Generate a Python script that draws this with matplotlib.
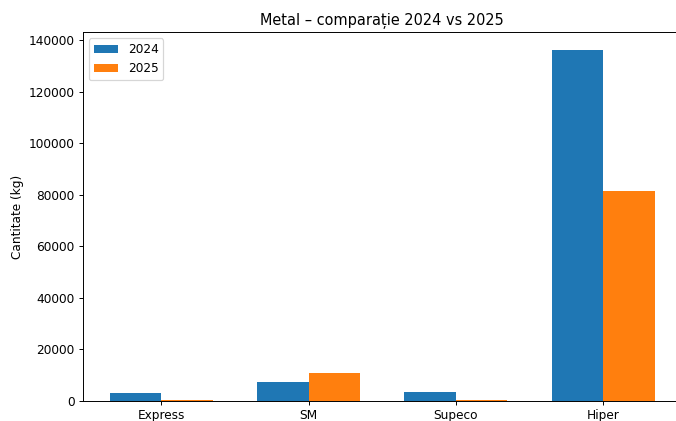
import matplotlib
matplotlib.use("Agg")
import matplotlib.pyplot as plt
import numpy as np

categories = ["Express", "SM", "Supeco", "Hiper"]
values_2024 = [3200, 7400, 3600, 136300]
values_2025 = [450, 10750, 400, 81500]

DPI = 87
fig, ax = plt.subplots(figsize=(676 / DPI, 421 / DPI), dpi=DPI)
x = np.arange(len(categories))
w = 0.35
ax.bar(x - w/2, values_2024, w, label="2024")
ax.bar(x + w/2, values_2025, w, label="2025")
ax.set_xticks(x)
ax.set_xticklabels(categories)
ax.set_xlim(-0.533, 3.533)
ax.set_ylabel("Cantitate (kg)")
ax.set_title("Metal – comparație 2024 vs 2025")
ax.legend(loc="upper left")
# the reference image is cropped on the right, so the axes extend past the figure edge
left_px, right_px = 83, 681.5
fig.subplots_adjust(left=left_px/676, right=right_px/676, top=1-32.3/421, bottom=1-401/421)
fig.savefig("out.png", dpi=DPI)
